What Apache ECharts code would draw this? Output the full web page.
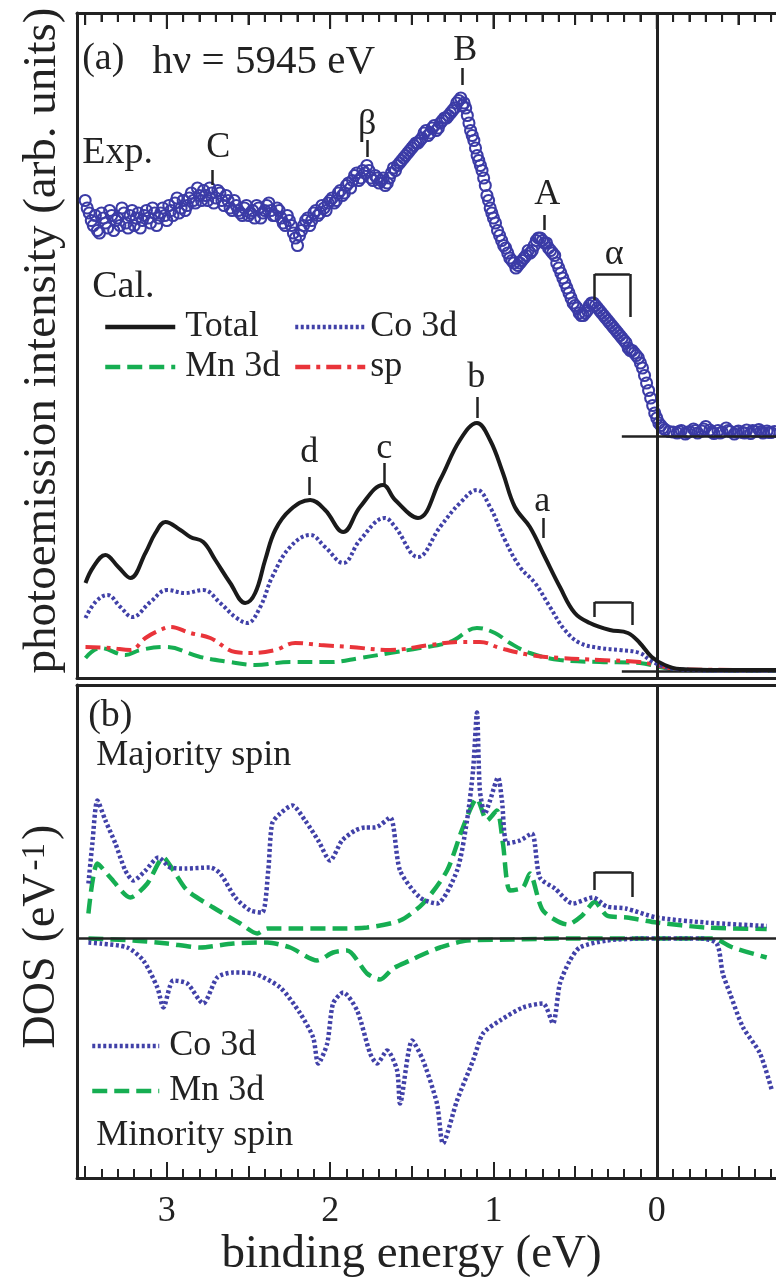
<!DOCTYPE html>
<html><head><meta charset="utf-8">
<script src="https://cdn.jsdelivr.net/npm/echarts@6/dist/echarts.min.js"></script>
<style>html,body{margin:0;padding:0;background:#fff}#c{width:776px;height:1279px}</style>
</head><body><div id="c"></div>
<script>
const FONT = '"Liberation Serif","DejaVu Serif",serif';
const INK = '#222';
const BLUE = '#3b3ba6', BLUE2 = '#4141a8', GREEN = '#16ae52', RED = '#e9343a';

// ---------- binding-energy axis ----------
const eMin = -0.73, eMax = 3.55;
const tickMajor = [0, 1, 2, 3];
const tickLabelValues = [3, 2, 1, 0];
const tickHalf = [-0.5, 0.5, 1.5, 2.5, 3.5];
const tickTenth = [];
for (let k = -7; k <= 35; k++) { if (k % 5 !== 0) tickTenth.push(k / 10); }

// ---------- (a) experiment, hv = 5945 eV ----------
const expData = [
[3.500,9.55],[3.475,9.30],[3.450,9.05],[3.425,8.95],[3.400,9.30],[3.375,9.10],[3.350,9.35],[3.325,8.95],[3.300,9.20],[3.275,9.40],
[3.250,9.10],[3.225,9.25],[3.200,9.05],[3.175,9.30],[3.150,9.15],[3.125,9.35],[3.100,9.10],[3.075,9.30],[3.050,9.20],[3.025,9.40],
[3.000,9.15],[2.975,9.35],[2.950,9.50],[2.925,9.30],[2.900,9.55],[2.875,9.45],[2.850,9.70],[2.825,9.50],[2.800,9.65],[2.775,9.75],
[2.750,9.55],[2.725,9.70],[2.700,9.60],[2.675,9.70],[2.650,9.45],[2.625,9.55],[2.600,9.35],[2.575,9.45],[2.550,9.30],[2.525,9.40],
[2.500,9.25],[2.475,9.35],[2.450,9.45],[2.425,9.20],[2.400,9.35],[2.375,9.50],[2.350,9.25],[2.325,9.40],[2.300,9.20],[2.275,9.05],
[2.250,9.15],[2.225,8.90],[2.200,8.65],[2.175,8.95],[2.150,9.15],[2.125,9.05],[2.100,9.30],[2.075,9.25],[2.050,9.45],[2.025,9.35],
[2.000,9.55],[1.975,9.50],[1.950,9.70],[1.925,9.65],[1.900,9.85],[1.875,9.80],[1.850,10.05],[1.825,9.95],[1.800,10.15],[1.775,10.25],
[1.750,10.00],[1.725,10.05],[1.700,9.90],[1.675,10.00],[1.650,9.90],[1.625,10.10],[1.600,10.15],[1.575,10.30],[1.550,10.40],[1.525,10.50],
[1.500,10.60],[1.475,10.70],[1.450,10.75],[1.425,10.90],[1.400,10.85],[1.375,11.00],[1.350,10.95],[1.325,11.10],[1.300,11.20],[1.275,11.25],
[1.250,11.35],[1.225,11.50],[1.200,11.60],[1.180,11.50],[1.160,11.25],[1.140,10.95],[1.120,10.75],[1.100,10.45],[1.080,10.25],[1.060,10.00],
[1.040,9.65],[1.020,9.40],[1.000,9.20],[0.975,8.95],[0.950,8.75],[0.925,8.60],[0.900,8.40],[0.875,8.30],[0.850,8.25],[0.825,8.35],
[0.800,8.45],[0.775,8.50],[0.750,8.65],[0.725,8.80],[0.700,8.75],[0.675,8.70],[0.650,8.55],[0.625,8.45],[0.600,8.20],[0.575,8.00],
[0.550,7.80],[0.525,7.60],[0.500,7.45],[0.475,7.30],[0.450,7.25],[0.425,7.35],[0.400,7.50],[0.375,7.45],[0.350,7.35],[0.325,7.25],
[0.300,7.15],[0.275,7.05],[0.250,6.95],[0.225,6.85],[0.200,6.75],[0.175,6.60],[0.150,6.55],[0.125,6.45],[0.100,6.30],[0.075,6.05],
[0.050,5.75],[0.025,5.45],[0.000,5.20],[-0.025,5.05],[-0.050,4.97],[-0.075,4.93],[-0.100,4.92],[-0.125,4.90],[-0.150,4.95],[-0.175,4.88],
[-0.200,4.93],[-0.225,4.98],[-0.250,4.90],[-0.275,4.94],[-0.300,5.03],[-0.325,4.96],[-0.350,4.89],[-0.375,4.95],[-0.400,4.92],[-0.425,5.00],
[-0.450,4.93],[-0.475,4.88],[-0.500,4.94],[-0.525,4.91],[-0.550,4.96],[-0.575,4.89],[-0.600,4.93],[-0.625,4.97],[-0.650,4.90],[-0.675,4.94],
[-0.700,4.91],[-0.720,4.93]
];
const expDataInterleaved = [
[3.4875,9.40],[3.4625,9.15],[3.4375,9.25],[3.4125,8.90],[3.3875,9.20],[3.3625,9.00],[3.3375,9.25],[3.3125,9.15],[3.2875,9.05],[3.2625,9.30],
[3.2375,9.00],[3.2125,9.35],[3.1875,9.20],[3.1625,9.00],[3.1375,9.25],[3.1125,9.20],[3.0875,9.40],[3.0625,9.05],[3.0375,9.30],[3.0125,9.25],
[2.9875,9.45],[2.9625,9.25],[2.9375,9.60],[2.9125,9.40],[2.8875,9.35],[2.8625,9.60],[2.8375,9.55],[2.8125,9.80],[2.7875,9.55],[2.7625,9.65],
[2.7375,9.80],[2.7125,9.50],[2.6875,9.75],[2.6625,9.55],[2.6375,9.65],[2.6125,9.40],[2.5875,9.55],[2.5625,9.35],[2.5375,9.25],[2.5125,9.45],
[2.4875,9.30],[2.4625,9.20],[2.4375,9.40],[2.4125,9.30],[2.3875,9.45],[2.3625,9.35],[2.3375,9.25],[2.3125,9.35],[2.2875,9.10],[2.2625,9.25],
[2.2375,9.05],[2.2125,8.80],[2.1875,8.85],[2.1625,9.05],[2.1375,9.20],[2.1125,9.15],[2.0875,9.35],[2.0625,9.30],[2.0375,9.40],[2.0125,9.50],
[1.9875,9.60],[1.9625,9.55],[1.9375,9.75],[1.9125,9.70],[1.8875,9.90],[1.8625,9.95],[1.8375,10.10],[1.8125,10.00],[1.7875,10.10],[1.7625,10.15],
[1.7375,9.95],[1.7125,10.00],[1.6875,9.95],[1.6625,9.85],[1.6375,10.00],[1.6125,10.20],[1.5875,10.25],[1.5625,10.35],[1.5375,10.45],[1.5125,10.55],
[1.4875,10.65],[1.4625,10.70],[1.4375,10.80],[1.4125,10.95],[1.3875,10.90],[1.3625,11.05],[1.3375,11.00],[1.3125,11.15],[1.2875,11.20],[1.2625,11.30],
[1.2375,11.40],[1.2125,11.55],[1.1900,11.45],[1.1700,11.40],[1.1500,11.10],[1.1300,10.85],[1.1100,10.60],[1.0900,10.35],[1.0700,10.15],[1.0500,9.85],
[1.0300,9.55],[1.0100,9.30],[0.9875,9.10],[0.9625,8.85],[0.9375,8.65],[0.9125,8.50],[0.8875,8.35],[0.8625,8.20],[0.8375,8.30],[0.8125,8.40],
[0.7875,8.55],[0.7625,8.55],[0.7375,8.75],[0.7125,8.80],[0.6875,8.70],[0.6625,8.60],[0.6375,8.50],[0.6125,8.30],[0.5875,8.10],[0.5625,7.90],
[0.5375,7.70],[0.5125,7.50],[0.4875,7.40],[0.4625,7.25],[0.4375,7.30],[0.4125,7.45],[0.3875,7.50],[0.3625,7.40],[0.3375,7.30],[0.3125,7.20],
[0.2875,7.10],[0.2625,7.00],[0.2375,6.90],[0.2125,6.80],[0.1875,6.70],[0.1625,6.55],[0.1375,6.50],[0.1125,6.40],[0.0875,6.20],[0.0625,5.90],
[0.0375,5.60],[0.0125,5.30],[-0.0125,5.10],[-0.0375,5.00],[-0.1375,4.93],[-0.1875,4.91],[-0.2375,4.95],[-0.2875,4.98],[-0.3375,4.92],[-0.3875,4.90],
[-0.4375,4.95],[-0.4875,4.92],[-0.5375,4.90],[-0.5875,4.95],[-0.6375,4.93],[-0.6875,4.91]
];
const expBaseline = 4.84;

// ---------- (a) calculation ----------
const calTotal = [[3.498,1.90],[3.450,2.22],[3.376,2.46],[3.297,2.22],[3.223,2.00],[3.131,2.50],[3.070,2.90],[3.009,3.12],[2.917,2.96],[2.856,2.82],
[2.777,2.72],[2.703,2.36],[2.612,1.90],[2.520,1.50],[2.459,1.70],[2.398,2.36],[2.336,2.96],[2.245,3.36],[2.122,3.56],[2.031,3.36],
[1.920,2.92],[1.817,3.42],[1.676,3.86],[1.602,3.56],[1.462,3.20],[1.327,3.96],[1.205,4.76],[1.101,5.10],[1.021,4.76],[0.942,4.10],
[0.869,3.42],[0.777,3.02],[0.685,2.42],[0.593,1.82],[0.502,1.30],[0.410,1.10],[0.287,0.96],[0.177,0.90],[0.104,0.70],[0.031,0.42],
[-0.049,0.26],[-0.141,0.18],[-0.400,0.16],[-0.730,0.16]];
const calCo = [[3.498,1.20],[3.437,1.52],[3.364,1.66],[3.284,1.42],[3.211,1.22],[3.101,1.52],[2.997,1.76],[2.887,1.70],[2.777,1.76],[2.673,1.50],
[2.581,1.22],[2.508,1.10],[2.428,1.42],[2.355,2.02],[2.245,2.62],[2.122,2.86],[2.031,2.62],[1.920,2.30],[1.817,2.76],[1.664,3.20],
[1.602,3.02],[1.462,2.42],[1.327,3.02],[1.205,3.50],[1.101,3.76],[1.021,3.42],[0.930,2.76],[0.838,2.22],[0.746,1.90],[0.654,1.42],
[0.563,0.96],[0.471,0.70],[0.349,0.60],[0.226,0.56],[0.104,0.50],[0.043,0.36],[-0.018,0.26],[-0.110,0.18],[-0.400,0.15],[-0.730,0.15]];
const calMn = [[3.498,0.40],[3.407,0.60],[3.254,0.46],[3.162,0.56],[3.009,0.62],[2.795,0.42],[2.612,0.32],[2.459,0.26],[2.245,0.32],[2.000,0.32],
[1.817,0.40],[1.633,0.50],[1.450,0.60],[1.266,0.72],[1.101,1.00],[0.991,0.90],[0.899,0.70],[0.777,0.50],[0.593,0.36],[0.349,0.32],
[0.104,0.30],[-0.018,0.22],[-0.141,0.16],[-0.730,0.15]];
const calSp = [[3.498,0.62],[3.346,0.60],[3.223,0.56],[3.131,0.80],[3.040,0.96],[2.979,1.02],[2.856,0.90],[2.734,0.80],[2.581,0.52],[2.489,0.50],
[2.336,0.56],[2.214,0.70],[2.061,0.66],[1.878,0.62],[1.633,0.56],[1.388,0.66],[1.205,0.72],[1.083,0.72],[0.960,0.60],[0.777,0.46],
[0.593,0.40],[0.349,0.36],[0.104,0.32],[-0.018,0.24],[-0.141,0.17],[-0.730,0.16]];
const calBaseline = 0.14;

// ---------- (b) DOS ----------
const dosMajCo = [[3.480,1.10],[3.456,1.90],[3.425,2.76],[3.376,2.36],[3.315,1.90],[3.254,1.36],[3.205,1.16],[3.131,1.36],[3.052,1.62],[2.979,1.42],
[2.887,1.40],[2.734,1.42],[2.673,1.30],[2.581,0.82],[2.489,0.56],[2.416,0.52],[2.379,1.36],[2.355,2.30],[2.306,2.50],[2.232,2.66],
[2.153,2.36],[2.073,1.96],[2.000,1.56],[1.927,1.96],[1.847,2.16],[1.786,2.22],[1.725,2.22],[1.633,2.42],[1.572,1.36],[1.450,0.82],
[1.346,0.70],[1.223,1.36],[1.162,2.36],[1.125,3.36],[1.101,4.52],[1.083,2.96],[1.052,2.50],[1.021,2.76],[0.972,3.22],[0.948,2.76],
[0.917,1.90],[0.838,1.96],[0.765,2.10],[0.716,1.22],[0.624,1.00],[0.514,0.70],[0.391,0.82],[0.306,0.64],[0.190,0.60],[0.000,0.42],
[-0.300,0.32],[-0.673,0.25]];
const dosMajMn = [[3.480,0.50],[3.425,1.50],[3.346,1.22],[3.223,0.82],[3.119,1.10],[3.021,1.62],[2.960,1.36],[2.875,0.96],[2.716,0.62],[2.550,0.30],
[2.446,0.10],[2.385,0.20],[2.183,0.20],[1.982,0.20],[1.774,0.22],[1.572,0.36],[1.431,0.70],[1.284,1.36],[1.187,2.22],[1.101,2.80],
[1.040,2.36],[0.979,2.56],[0.942,1.90],[0.899,0.96],[0.820,1.02],[0.777,1.30],[0.697,0.56],[0.545,0.28],[0.460,0.45],[0.380,0.73],
[0.306,0.46],[0.183,0.42],[0.000,0.32],[-0.300,0.22],[-0.673,0.19]];
const dosMinCo = [[3.480,-0.08],[3.407,-0.10],[3.242,-0.18],[3.144,-0.44],[3.058,-0.98],[3.021,-1.38],[2.960,-0.84],[2.875,-0.90],[2.777,-1.30],[2.691,-0.78],
[2.593,-0.68],[2.471,-0.70],[2.306,-0.98],[2.183,-1.50],[2.104,-1.98],[2.073,-2.50],[2.018,-2.10],[1.982,-1.30],[1.920,-1.08],[1.835,-1.44],
[1.755,-2.30],[1.713,-2.50],[1.651,-2.24],[1.590,-2.64],[1.572,-3.30],[1.498,-2.04],[1.431,-2.44],[1.346,-3.30],[1.309,-4.10],[1.223,-3.24],
[1.125,-2.44],[1.064,-1.90],[0.960,-1.64],[0.820,-1.38],[0.697,-1.30],[0.636,-1.70],[0.593,-0.90],[0.532,-0.44],[0.471,-0.18],[0.306,-0.04],
[0.061,0.00],[-0.263,0.00],[-0.367,-0.10],[-0.404,-0.70],[-0.447,-1.09],[-0.527,-1.77],[-0.631,-2.29],[-0.704,-3.03]];
const dosMinMn = [[3.480,0.00],[3.205,-0.04],[2.997,-0.10],[2.795,-0.18],[2.593,-0.10],[2.385,-0.08],[2.245,-0.18],[2.080,-0.44],[1.982,-0.28],[1.896,-0.24],
[1.774,-0.70],[1.694,-0.82],[1.615,-0.60],[1.511,-0.44],[1.419,-0.30],[1.327,-0.18],[1.162,-0.04],[0.881,-0.02],[0.550,0.00],[0.061,0.00],
[-0.343,0.00],[-0.465,-0.18],[-0.673,-0.38]];

// ---------- annotations (data coordinates) ----------
const textsA = [
  ['(a)', 3.386, 12.36, 'center', 38], ['hν = 5945 eV', 3.086, 12.31, 'left', 41], ['Exp.', 3.515, 10.49, 'left', 38],
  ['C', 2.682, 10.60, 'center', 36], ['β', 1.770, 11.06, 'center', 36], ['B', 1.170, 12.53, 'center', 36],
  ['A', 0.667, 9.66, 'center', 36], ['α', 0.257, 8.46, 'center', 36], ['Cal.', 3.454, 7.80, 'left', 38],
  ['d', 2.125, 4.50, 'center', 36], ['c', 1.666, 4.58, 'center', 36], ['b', 1.102, 6.00, 'center', 36], ['a', 0.698, 3.52, 'center', 36]
];
const segmentsA = [
  [[2.719,10.16],[2.719,9.86]], [[1.770,10.76],[1.770,10.42]], [[1.194,12.20],[1.194,11.86]], [[0.692,9.26],[0.692,8.96]],
  [[2.125,4.02],[2.125,3.66]], [[1.666,4.30],[1.666,3.82]], [[1.102,5.62],[1.102,5.20]], [[0.698,3.20],[0.698,2.80]],
  [[0.380,7.56],[0.380,8.08]], [[0.380,8.08],[0.165,8.08]], [[0.165,8.08],[0.165,7.22]],
  [[0.380,1.22],[0.380,1.52]], [[0.380,1.52],[0.153,1.52]], [[0.153,1.52],[0.153,1.06]],
  [[0.214,expBaseline],[eMin,expBaseline]], [[0.214,calBaseline],[eMin,calBaseline]]
];
const textsB = [
  ['(b)', 3.343, 4.43, 'center', 38], ['Majority spin', 3.429, 3.64, 'left', 36], ['Minority spin', 3.429, -3.95, 'left', 36]
];
const segmentsB = [
  [[0.380,0.97],[0.380,1.33]], [[0.380,1.33],[0.153,1.33]], [[0.153,1.33],[0.153,0.83]]
];

// ---------- build option ----------
const yTopA = 13.3;
const topTickValues = tickMajor.concat(tickHalf, tickTenth).map(v => [v]);
function topTickLength(v) {
  if (Math.abs(v - Math.round(v)) < 1e-6) return 16;
  if (Math.abs(v * 2 - Math.round(v * 2)) < 1e-6) return 12;
  return 9;
}
const rectA = {left: 77, top: 13, width: 699, height: 665};
const stripMajA = {left: 77, top: 13, width: 699, height: 16};
const stripHalfA = {left: 77, top: 13, width: 699, height: 12};
const stripTenthA = {left: 77, top: 13, width: 699, height: 9};
const rectB = {left: 77, top: 685, width: 699, height: 493};
const axLine = {show: true, onZero: false, lineStyle: {color: INK, width: 3}};
const noLine = {show: false, onZero: false};
function xAx(grid, pos, line, ticks, len, inside, extra) {
  return Object.assign({
    type: 'value', gridIndex: grid, position: pos, min: eMin, max: eMax, inverse: true,
    axisLine: line ? axLine : noLine,
    axisTick: ticks ? {show: true, inside: inside, length: len, customValues: ticks, lineStyle: {color: INK, width: 2}} : {show: false},
    axisLabel: {show: false}, splitLine: {show: false}
  }, extra || {});
}
function hiddenY(grid) { return {type: 'value', gridIndex: grid, show: false, min: 0, max: 1, axisLine: noLine}; }
function segData(segs) { return segs.map(s => [{coord: s[0]}, {coord: s[1]}]); }
function textData(texts) {
  return texts.map(t => ({value: [t[1], t[2]], label: {show: true, formatter: t[0], align: t[3], verticalAlign: 'middle',
    position: [0, 0], fontSize: t[4]}}));
}
const lineBase = {type: 'line', symbol: 'none', showSymbol: false, animation: false, silent: true};
const labelStyle = {fontFamily: FONT, fontSize: 36, color: INK, opacity: 1};
const legendBase = {orient: 'vertical', itemHeight: 14, padding: 0, selectedMode: false,
  itemStyle: {opacity: 0}, lineStyle: {width: 4.5}};

const option = {
  animation: false,
  backgroundColor: '#fff',
  grid: [rectA, stripMajA, stripHalfA, stripTenthA, rectB, rectB, rectB].map(r => Object.assign({containLabel: false}, r)),
  xAxis: [
    xAx(0, 'top', true, null, 0, false),
    xAx(0, 'bottom', true, null, 0, false),
    xAx(1, 'bottom', false, tickMajor, 16, true),
    xAx(2, 'bottom', false, tickHalf, 12, true),
    xAx(3, 'bottom', false, tickTenth, 9, true),
    xAx(4, 'bottom', true, tickMajor, 16, true, {
      axisLabel: {show: true, customValues: tickLabelValues, formatter: v => String(Math.round(v)), margin: 16,
                  fontFamily: FONT, fontSize: 36, color: INK},
      name: 'binding energy (eV)', nameLocation: 'middle', nameGap: 52,
      nameTextStyle: {fontFamily: FONT, fontSize: 47, color: INK, padding: [0, 30, 0, 0]}
    }),
    xAx(4, 'top', true, null, 0, false),
    xAx(5, 'bottom', false, tickHalf, 12, true),
    xAx(6, 'bottom', false, tickTenth, 9, true)
  ],
  yAxis: [
    {type: 'value', gridIndex: 0, min: 0, max: yTopA, axisLine: axLine, axisTick: {show: false}, axisLabel: {show: false}, splitLine: {show: false},
     name: 'photoemission intensity (arb. units)', nameLocation: 'middle', nameRotate: 90, nameGap: 11,
     nameTextStyle: {fontFamily: FONT, fontSize: 47, color: INK, padding: [0, 0, 0, 10]}},
    hiddenY(1), hiddenY(2), hiddenY(3),
    {type: 'value', gridIndex: 4, min: -4.79, max: 5.07, axisLine: axLine, axisTick: {show: false}, axisLabel: {show: false}, splitLine: {show: false},
     name: '{m|DOS}{g|(eV}{sup|-1}{m|)}', nameLocation: 'middle', nameRotate: 90, nameGap: 12,
     nameTextStyle: {fontFamily: FONT, fontSize: 46, color: INK, padding: [0, 10, 0, 0],
       rich: {
         m: {fontFamily: FONT, fontSize: 46, color: INK, verticalAlign: 'bottom', lineHeight: 46},
         g: {fontFamily: FONT, fontSize: 46, color: INK, verticalAlign: 'bottom', lineHeight: 46, padding: [0, 0, 0, 14]},
         sup: {fontFamily: FONT, fontSize: 33, color: INK, verticalAlign: 'top', lineHeight: 33, padding: [0, 3, 20, 3]}
       }}},
    hiddenY(5), hiddenY(6)
  ],
  legend: [
    Object.assign({data: ['Total', 'Mn 3d'], left: 103, top: 307, itemWidth: 70, itemGap: 0,
      textStyle: Object.assign({lineHeight: 40, padding: [0, 0, 0, 5]}, labelStyle)}, legendBase),
    Object.assign({data: ['Co 3d', 'sp'], left: 293, top: 307, itemWidth: 70, itemGap: 0,
      textStyle: Object.assign({lineHeight: 40, padding: [0, 0, 0, 0]}, labelStyle)}, legendBase),
    Object.assign({data: ['Co 3d', 'Mn 3d'], left: 90, top: 1026, itemWidth: 67, itemGap: 5,
      textStyle: Object.assign({lineHeight: 40, padding: [0, 0, 0, 5]}, labelStyle)}, legendBase)
  ],
  series: [
    {name: 'Exp', type: 'scatter', xAxisIndex: 0, yAxisIndex: 0, data: expData.concat(expDataInterleaved), symbol: 'circle', symbolSize: 11,
     itemStyle: {color: 'rgba(0,0,0,0)', borderColor: BLUE, borderWidth: 2.1, opacity: 1}, silent: true, animation: false},
    Object.assign({}, lineBase, {name: 'Mn 3d', xAxisIndex: 0, yAxisIndex: 0, data: calMn, smooth: 0.4, z: 3,
      itemStyle: {color: GREEN}, lineStyle: {color: GREEN, width: 4, type: [15, 7]}}),
    Object.assign({}, lineBase, {name: 'sp', xAxisIndex: 0, yAxisIndex: 0, data: calSp, smooth: 0.4, z: 4,
      itemStyle: {color: RED}, lineStyle: {color: RED, width: 4, type: [15, 6, 4, 6]}}),
    Object.assign({}, lineBase, {name: 'Co 3d', xAxisIndex: 0, yAxisIndex: 0, data: calCo, smooth: 0.4, z: 5,
      itemStyle: {color: BLUE2}, lineStyle: {color: BLUE2, width: 4, type: [3, 2.5]}}),
    Object.assign({}, lineBase, {name: 'Total', xAxisIndex: 0, yAxisIndex: 0, data: calTotal, smooth: 0.4, z: 6,
      itemStyle: {color: '#1a1a1a'}, lineStyle: {color: '#1a1a1a', width: 4}}),
    Object.assign({}, lineBase, {name: 'Mn 3d', xAxisIndex: 5, yAxisIndex: 4, data: dosMajMn, smooth: 0.25, z: 3,
      itemStyle: {color: GREEN}, lineStyle: {color: GREEN, width: 4.5, type: [15, 7]}}),
    Object.assign({}, lineBase, {name: 'Mn 3d', xAxisIndex: 5, yAxisIndex: 4, data: dosMinMn, smooth: 0.25, z: 3,
      itemStyle: {color: GREEN}, lineStyle: {color: GREEN, width: 4.5, type: [15, 7]}}),
    Object.assign({}, lineBase, {name: 'Co 3d', xAxisIndex: 5, yAxisIndex: 4, data: dosMajCo, smooth: 0.25, z: 4,
      itemStyle: {color: BLUE2}, lineStyle: {color: BLUE2, width: 4.5, type: [3, 2.5]}}),
    Object.assign({}, lineBase, {name: 'Co 3d', xAxisIndex: 5, yAxisIndex: 4, data: dosMinCo, smooth: 0.25, z: 4,
      itemStyle: {color: BLUE2}, lineStyle: {color: BLUE2, width: 4.5, type: [3, 2.5]}}),
    {name: '_topTicks', type: 'custom', xAxisIndex: 0, yAxisIndex: 0, data: topTickValues, silent: true, animation: false,
     clip: false, z: 10, encode: {x: 0},
     renderItem: function (params, api) {
       const v = api.value(0);
       const p = api.coord([v, yTopA]);
       return {type: 'line', shape: {x1: p[0], y1: p[1], x2: p[0], y2: p[1] + topTickLength(v)},
               style: {stroke: INK, lineWidth: 2}};
     }},
    {name: '_annotA', type: 'scatter', xAxisIndex: 0, yAxisIndex: 0, data: textData(textsA), symbolSize: 1,
     itemStyle: {color: 'rgba(0,0,0,0)', opacity: 1}, label: labelStyle, silent: true, animation: false, z: 8,
     markLine: {silent: true, animation: false, symbol: ['none', 'none'], label: {show: false},
       lineStyle: {color: INK, width: 2.5, type: 'solid', opacity: 1},
       data: [{xAxis: 0, lineStyle: {width: 3}}].concat(segData(segmentsA))}},
    {name: '_annotB', type: 'scatter', xAxisIndex: 5, yAxisIndex: 4, data: textData(textsB), symbolSize: 1,
     itemStyle: {color: 'rgba(0,0,0,0)', opacity: 1}, label: labelStyle, silent: true, animation: false, z: 8,
     markLine: {silent: true, animation: false, symbol: ['none', 'none'], label: {show: false},
       lineStyle: {color: INK, width: 2.5, type: 'solid', opacity: 1},
       data: [{xAxis: 0, lineStyle: {width: 3}}, {yAxis: 0}].concat(segData(segmentsB))}}
  ]
};
const chart = echarts.init(document.getElementById('c'), null, {renderer: 'canvas'});
chart.setOption(option);
</script></body></html>
